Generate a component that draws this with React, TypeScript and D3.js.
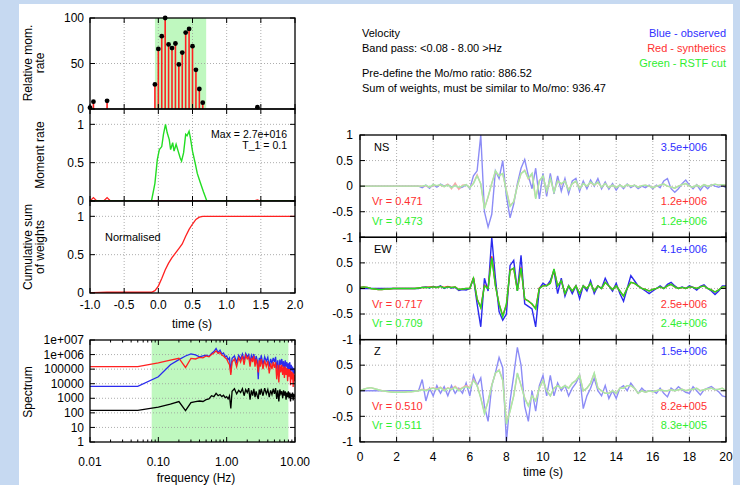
import React, { useRef, useEffect } from 'react';
import * as d3 from 'd3';

const FONT = '"Liberation Sans", Arial, Helvetica, sans-serif';

// relative moment rate (stems)
const stemTimes = [-1.0, -0.95, -0.75, -0.05, 0.0, 0.05, 0.10, 0.15, 0.20, 0.25, 0.30, 0.35, 0.40, 0.45, 0.50, 0.55, 0.60, 0.65, 1.45];
const stemValues = [1.5, 8, 9, 27, 66, 80, 100, 71, 67, 72, 49, 62, 84, 88, 69, 43, 22, 7, 2];
const rstfCut = [-0.05, 0.70];

// moment rate
const mrTimes = [-1.0, -0.1, -0.05, -0.015, 0.015, 0.05, 0.075, 0.105, 0.13, 0.16, 0.18, 0.21, 0.23, 0.26, 0.29, 0.32, 0.34, 0.37, 0.40, 0.42, 0.45, 0.47, 0.50, 0.54, 0.57, 0.61, 0.66, 0.71, 2.0];
const mrValues = [0, 0, 0.23, 0.54, 0.67, 0.71, 0.87, 1.0, 0.89, 0.80, 0.67, 0.76, 0.65, 0.74, 0.65, 0.56, 0.52, 0.63, 0.87, 0.85, 0.91, 0.82, 0.65, 0.49, 0.36, 0.25, 0.12, 0, 0];
const mrRedTimes = [-1.0, -0.95, -0.9, -0.8, -0.75, -0.7, 1.4, 1.45, 1.5, 2.0];
const mrRedValues = [0, 0.045, 0, 0, 0.045, 0, 0, 0.015, 0, 0];

// cumulative sum of weights
const cumTimes = [-1.0, -0.95, -0.75, -0.1, -0.05, 0.0, 0.05, 0.1, 0.15, 0.2, 0.25, 0.3, 0.35, 0.4, 0.45, 0.5, 0.55, 0.6, 0.65, 1.45, 2.0];
const cumValues = [0, 0.005, 0.01, 0.01, 0.03, 0.09, 0.19, 0.3, 0.39, 0.46, 0.52, 0.58, 0.64, 0.74, 0.83, 0.9, 0.96, 0.99, 1.0, 1.0, 1.0];

// spectra
const freqs = [0.01, 0.05, 0.10, 0.15, 0.20, 0.25, 0.30, 0.35, 0.40, 0.45, 0.50, 0.55, 0.60, 0.65, 0.70, 0.75, 0.80, 0.85, 0.90, 0.95,
  1.00, 1.05, 1.10, 1.15, 1.20, 1.30, 1.40, 1.50, 1.60, 1.70, 1.80, 1.90, 2.00, 2.10, 2.20, 2.30, 2.40, 2.50, 2.60, 2.70,
  2.80, 2.90, 3.00, 3.10, 3.20, 3.40, 3.60, 3.80, 4.00, 4.20, 4.40, 4.60, 4.80, 5.00, 5.20, 5.40, 5.60, 5.80, 6.00, 6.20,
  6.40, 6.60, 6.80, 7.00, 7.20, 7.40, 7.60, 7.80, 8.00, 8.20, 8.40, 8.60, 8.80, 9.00, 9.20, 9.40, 9.60, 9.80, 10.00];
const specObserved = [6500, 6500, 3.0e4, 2.0e5, 4.5e5, 8.0e5, 1.1e6, 9.5e5, 7.0e5, 8.0e5, 9.0e5, 7.5e5, 1.2e6, 1.6e6, 2.6e6, 1.4e6, 2.0e6, 1.1e6, 1.3e6, 7.0e5,
  8.0e5, 4.5e5, 6.0e5, 6.0e4, 5.5e5, 8.0e5, 3.0e5, 9.0e5, 5.0e5, 1.1e6, 4.0e5, 1.2e6, 7.0e5, 1.0e6, 3.0e5, 9.0e5, 5.0e5, 1.1e6, 2.5e5, 8.0e5,
  4.0e5, 2.0e4, 6.0e5, 3.0e5, 9.0e5, 2.0e5, 7.0e5, 3.5e5, 6.5e5, 1.5e5, 5.0e5, 2.5e5, 6.0e5, 3.0e5, 7.0e5, 1.0e5, 4.0e5, 3.0e4, 4.5e5, 2.0e5,
  5.0e5, 1.5e5, 3.5e5, 8.0e4, 4.0e5, 1.5e5, 3.0e5, 6.0e4, 2.5e5, 1.0e5, 3.0e5, 5.0e4, 2.0e5, 8.0e4, 1.5e5, 3.0e4, 1.2e5, 5.0e4, 9.0e4];
const specSynthetic = [1.5e5, 1.5e5, 2.7e5, 4.2e5, 5.6e5, 1.3e5, 5.5e5, 5.0e5, 6.5e5, 6.0e5, 8.0e5, 7.0e5, 1.0e6, 1.3e6, 1.8e6, 1.2e6, 1.4e6, 9.0e5, 8.0e5, 6.0e5,
  5.0e5, 3.0e5, 2.0e5, 4.0e4, 3.0e5, 5.0e5, 1.5e5, 6.0e5, 3.0e5, 8.0e5, 2.0e5, 9.0e5, 5.0e5, 7.0e5, 1.5e5, 6.0e5, 3.0e5, 8.0e5, 1.5e5, 5.0e5,
  2.0e5, 6.0e4, 4.0e5, 1.5e5, 5.0e5, 1.0e5, 4.0e5, 1.5e5, 3.5e5, 5.0e4, 2.5e5, 1.0e5, 3.0e5, 1.2e5, 3.0e5, 2.0e4, 2.0e5, 1.2e4, 2.0e5, 6.0e4,
  2.0e5, 4.0e4, 1.5e5, 2.5e4, 1.5e5, 4.0e4, 1.2e5, 1.5e4, 1.0e5, 3.0e4, 1.0e5, 8.0e3, 7.0e4, 2.0e4, 6.0e4, 6.0e3, 5.0e4, 1.5e4, 4.0e4];
const specSource = [150, 150, 250, 400, 600, 140, 500, 600, 650, 600, 800, 900, 1500, 1300, 2200, 1500, 1800, 1300, 1600, 1100,
  1300, 900, 1500, 200, 3000, 4500, 2000, 3500, 2500, 4500, 1500, 4000, 2500, 5000, 800, 3500, 1500, 4500, 1200, 3000,
  1500, 900, 4000, 1800, 4500, 1500, 5000, 2000, 4000, 1200, 3500, 1800, 4500, 2000, 5000, 900, 3500, 600, 4000, 2000,
  3000, 1000, 3500, 1500, 3000, 800, 2500, 1200, 3000, 1000, 2500, 600, 2000, 1200, 2500, 700, 2000, 1200, 1800];
const bandPass = [0.08, 8.0];
const specTickLabels = ['1', '10', '100', '1000', '10000', '100000', '1e+006', '1e+007'];
const freqTickLabels = ['0.01', '0.10', '1.00', '10.00'];

// waveforms, sampled every 0.2 s from 0 to 20 s
const dt = 0.2;
const nsObs = [
  0, 0, 0, 0, 0, 0, 0, 0, 0, 0,
  0, 0, 0, 0, 0, 0, 0, -0.03, 0.02, -0.04,
  0.03, -0.02, 0.04, 0.0, 0.03, -0.02, 0.02, -0.04, -0.02, 0.03,
  -0.05, 0.2, 0.3, 1.0, -0.5, -0.8, -0.55, 0.3, 0.15, 0.5,
  -0.2, -0.62, -0.35, 0.05, 0.35, 0.52, 0.2, -0.05, 0.35, -0.25,
  0.25, -0.2, 0.25, -0.15, 0.2, -0.1, 0.15, -0.15, 0.1, 0.15,
  -0.1, 0.1, -0.05, 0.12, 0.0, 0.15, -0.05, 0.08, -0.06, 0.05,
  -0.08, 0.03, -0.05, 0.04, -0.03, 0.02, -0.05, 0.0, -0.03, 0.02,
  -0.05, 0.02, -0.03, 0.1, 0.15, -0.05, -0.12, -0.05, 0.05, 0.12,
  0.02, -0.05, 0.03, -0.08, 0.02, -0.05, 0.03, 0.0, -0.02, 0.01,
  -0.03];
const nsSyn = [
  0, 0, 0, 0, 0, 0, 0, 0, 0, 0,
  0, 0, 0, 0, 0, 0, 0, 0, 0.01, -0.02,
  0.02, 0.01, 0.02, -0.01, 0.04, -0.05, 0.06, -0.06, 0.02, 0.03,
  -0.03, 0.06, 0.22, 0.04, -0.43, -0.22, 0.06, 0.28, 0.21, 0.24,
  -0.08, -0.38, -0.31, 0.01, 0.24, 0.31, 0.14, 0.24, -0.24, 0.11,
  0.19, -0.1, 0.14, -0.11, 0.1, 0.04, 0.1, -0.07, 0.05, 0.09,
  -0.04, 0.05, 0.0, 0.07, 0.02, 0.07, -0.02, 0.05, -0.03, 0.02,
  -0.03, 0.02, -0.02, 0.03, 0.0, 0.02, -0.02, 0.01, 0.02, 0.0,
  -0.03, 0.0, 0.02, 0.04, 0.0, -0.02, -0.04, 0.0, 0.03, 0.05,
  0.0, -0.02, 0.02, -0.02, 0.03, 0.0, 0.02, 0.04, 0.02, 0.03,
  0.02];
const nsCut = [
  0, 0, 0, 0, 0, 0, 0, 0, 0, 0,
  0, 0, 0, 0, 0, 0, 0, 0, 0.02, -0.02,
  0.03, 0.01, 0.03, -0.01, 0.02, -0.03, 0.01, -0.02, 0.0, 0.03,
  -0.03, 0.05, 0.2, 0.05, -0.45, -0.2, 0.05, 0.3, 0.2, 0.25,
  -0.1, -0.4, -0.3, 0.0, 0.25, 0.3, 0.15, 0.25, -0.25, 0.1,
  0.2, -0.1, 0.15, -0.12, 0.1, 0.05, 0.1, -0.08, 0.05, 0.1,
  -0.05, 0.05, 0.0, 0.08, 0.02, 0.08, -0.02, 0.05, -0.03, 0.02,
  -0.03, 0.02, -0.02, 0.03, 0.0, 0.02, -0.02, 0.01, 0.02, 0.0,
  -0.03, 0.0, 0.02, 0.04, 0.0, -0.02, -0.04, 0.0, 0.03, 0.05,
  0.0, -0.02, 0.02, -0.02, 0.03, 0.0, 0.02, 0.04, 0.02, 0.03,
  0.02];
const ewObs = [
  0, 0, 0, 0, 0, 0, 0, 0, 0, 0,
  0, 0, 0, 0, 0, 0, 0, 0.02, 0.03, 0.01,
  0.04, 0.02, 0.05, 0.0, 0.03, 0.01, 0.02, -0.04, -0.02, -0.03,
  0.0, 0.2, -0.3, -0.75, 0.2, -0.05, 1.0, 0.2, -0.45, -0.62,
  -0.5, 0.45, 0.55, -0.05, 0.65, -0.3, -0.35, -0.4, -0.75, 0.0,
  0.1, 0.05, 0.15, 0.35, -0.1, 0.2, -0.15, 0.05, -0.1, 0.05,
  -0.2, 0.05, -0.05, 0.15, -0.1, 0.05, 0.0, 0.2, 0.05, -0.05,
  0.1, -0.1, -0.25, 0.0, 0.25, 0.15, 0.05, 0.0, -0.05, -0.1,
  -0.05, 0.0, 0.05, 0.0, 0.08, 0.12, 0.05, 0.0, 0.03, 0.0,
  0.05, 0.02, -0.03, 0.04, 0.07, 0.0, -0.05, -0.12, -0.05, 0.05,
  0.05];
const ewSyn = [
  0.02, 0.03, 0.02, 0.0, -0.01, -0.02, -0.02, -0.01, -0.01, 0.0,
  0.0, 0.0, 0.0, 0.0, 0.0, 0.0, 0.01, 0.02, 0.02, 0.03,
  0.03, 0.02, 0.04, 0.02, 0.04, 0.02, 0.03, -0.02, -0.01, 0.0,
  0.0, 0.21, -0.21, -0.37, 0.06, 0.01, 0.63, 0.06, -0.31, -0.53,
  -0.33, 0.36, 0.39, -0.04, 0.41, -0.21, -0.24, -0.31, -0.39, 0.01,
  0.05, 0.06, 0.1, 0.37, 0.05, 0.15, -0.1, 0.05, -0.05, 0.05,
  -0.1, 0.05, 0.0, 0.1, -0.05, 0.05, 0.0, 0.12, 0.05, -0.02,
  0.05, -0.05, -0.15, 0.0, 0.12, 0.1, 0.05, 0.0, -0.02, -0.05,
  -0.02, 0.0, 0.03, 0.0, 0.05, 0.08, 0.03, 0.0, 0.02, 0.0,
  0.03, 0.02, 0.0, 0.03, 0.05, 0.0, -0.03, -0.07, -0.03, 0.03,
  0.03];
const ewCut = [
  0.02, 0.03, 0.02, 0.0, -0.01, -0.02, -0.02, -0.01, -0.01, 0.0,
  0.0, 0.0, 0.0, 0.0, 0.0, 0.0, 0.01, 0.02, 0.02, 0.02,
  0.03, 0.02, 0.04, 0.01, 0.03, 0.02, 0.03, -0.02, -0.01, 0.0,
  0.0, 0.2, -0.2, -0.38, 0.05, 0.0, 0.6, 0.05, -0.3, -0.55,
  -0.3, 0.35, 0.4, -0.05, 0.4, -0.2, -0.25, -0.3, -0.4, 0.0,
  0.05, 0.05, 0.1, 0.38, 0.05, 0.15, -0.1, 0.05, -0.05, 0.05,
  -0.1, 0.05, 0.0, 0.1, -0.05, 0.05, 0.0, 0.12, 0.05, -0.02,
  0.05, -0.05, -0.15, 0.0, 0.12, 0.1, 0.05, 0.0, -0.02, -0.05,
  -0.02, 0.0, 0.03, 0.0, 0.05, 0.08, 0.03, 0.0, 0.02, 0.0,
  0.03, 0.02, 0.0, 0.03, 0.05, 0.0, -0.03, -0.07, -0.03, 0.03,
  0.03];
const zObs = [
  0, 0, 0, 0, 0, 0, 0, 0, 0, 0,
  0, 0, 0, 0, 0, 0, 0, 0.22, -0.2, 0.05,
  -0.1, 0.1, -0.05, 0.08, -0.1, 0.1, -0.05, 0.05, -0.05, 0.15,
  -0.1, 0.3, 0.1, 0.25, -0.3, -0.6, 0.1, 0.35, 0.65, 0.45,
  -1.0, -0.2, 0.3, 0.85, 0.5, -0.3, -0.6, 0.0, -0.4, 0.1,
  0.3, -0.1, 0.3, -0.1, 0.15, 0.0, 0.1, -0.1, 0.05, 0.15,
  0.3, -0.35, -0.1, 0.05, 0.25, 0.0, -0.1, 0.1, -0.15, 0.0,
  -0.15, 0.05, 0.1, 0.0, 0.15, 0.05, -0.05, 0.05, -0.02, 0.0,
  0.0, -0.05, 0.05, -0.05, -0.12, 0.05, 0.0, 0.08, 0.02, -0.03,
  -0.05, 0.08, 0.0, -0.08, 0.02, 0.05, 0.08, 0.03, -0.02, -0.1,
  -0.12];
const zSyn = [
  0.0, 0.03, 0.05, 0.06, 0.04, 0.02, 0.0, -0.01, -0.02, -0.03,
  -0.03, -0.03, -0.03, -0.02, -0.02, -0.01, 0.0, 0.03, 0.01, 0.04,
  0.06, 0.03, 0.07, 0.01, 0.06, 0.03, 0.09, 0.02, 0.06, 0.1,
  0.06, 0.22, 0.11, -0.14, -0.43, -0.21, 0.11, 0.34, 0.41, 0.21,
  -0.63, -0.39, -0.1, 0.34, 0.11, -0.14, -0.29, -0.1, -0.19, 0.05,
  0.2, 0.0, -0.1, 0.05, 0.1, 0.05, 0.1, 0.05, 0.15, 0.2,
  0.3, 0.0, 0.05, 0.15, 0.34, 0.05, 0.0, -0.05, -0.05, 0.0,
  -0.05, 0.05, 0.05, 0.1, 0.1, 0.05, -0.05, 0.0, -0.03, 0.0,
  -0.02, 0.0, 0.02, 0.0, 0.0, 0.02, 0.0, 0.02, 0.03, 0.0,
  0.02, 0.03, 0.05, 0.0, 0.02, 0.04, 0.05, 0.02, 0.03, 0.05,
  0.0];
const zCut = [
  0.0, 0.03, 0.05, 0.06, 0.04, 0.02, 0.0, -0.01, -0.02, -0.03,
  -0.03, -0.03, -0.03, -0.02, -0.02, -0.01, 0.0, 0.02, 0.0, 0.03,
  0.05, 0.02, 0.06, 0.0, 0.05, 0.02, 0.07, 0.0, 0.05, 0.08,
  0.05, 0.2, 0.1, -0.15, -0.45, -0.2, 0.1, 0.35, 0.4, 0.2,
  -0.65, -0.4, -0.1, 0.35, 0.1, -0.15, -0.3, -0.1, -0.2, 0.05,
  0.2, 0.0, -0.1, 0.05, 0.1, 0.05, 0.1, 0.05, 0.15, 0.2,
  0.3, 0.0, 0.05, 0.15, 0.35, 0.05, 0.0, -0.05, -0.05, 0.0,
  -0.05, 0.05, 0.05, 0.1, 0.1, 0.05, -0.05, 0.0, -0.03, 0.0,
  -0.02, 0.0, 0.02, 0.0, 0.0, 0.02, 0.0, 0.02, 0.03, 0.0,
  0.02, 0.03, 0.05, 0.0, 0.02, 0.04, 0.05, 0.02, 0.03, 0.05,
  0.0];

const components = [
  { name: 'NS', obs: nsObs, syn: nsSyn, cut: nsCut, obsMax: '3.5e+006', synMax: '1.2e+006', cutMax: '1.2e+006', vrSyn: '0.471', vrCut: '0.473', faded: true },
  { name: 'EW', obs: ewObs, syn: ewSyn, cut: ewCut, obsMax: '4.1e+006', synMax: '2.5e+006', cutMax: '2.4e+006', vrSyn: '0.717', vrCut: '0.709', faded: false },
  { name: 'Z', obs: zObs, syn: zSyn, cut: zCut, obsMax: '1.5e+006', synMax: '8.2e+005', cutMax: '8.3e+005', vrSyn: '0.510', vrCut: '0.511', faded: true },
];

const infoLines = ['Velocity', 'Band pass: <0.08 - 8.00 >Hz', 'Pre-define the Mo/mo ratio: 886.52', 'Sum of weights, must be similar to Mo/mo: 936.47'];
const legendLines = [
  { text: 'Blue - observed', color: '#3030ff' },
  { text: 'Red - synthetics', color: '#ff3030' },
  { text: 'Green - RSTF cut', color: '#30ee30' },
];

const BLUE = '#2a2aee';
const RED = '#ff2020';
const GREEN = '#22dd22';
const BLUE_LIGHT = '#8c8cf6';
const RED_LIGHT = '#f7a8a8';
const GREEN_LIGHT = '#a6eca6';
const BAND = '#bff8bf';
const GRID = '#999';

export default function App() {
  const svgRef = useRef<SVGSVGElement>(null);

  useEffect(() => {
    const svg = d3.select(svgRef.current);
    svg.selectAll('*').remove();
    svg.style('font-family', FONT);

    svg.append('rect').attr('width', 740).attr('height', 485).attr('fill', '#c6d9f1');
    svg.append('rect').attr('x', 19).attr('y', 4).attr('width', 714).attr('height', 481).attr('fill', '#fff');

    let clipId = 0;
    const panel = (x: any, y: any) => {
      const [x0, x1] = x.range();
      const [y1, y0] = y.range();
      const id = `clip${clipId++}`;
      svg.append('clipPath').attr('id', id)
        .append('rect').attr('x', x0).attr('y', y0).attr('width', x1 - x0).attr('height', y1 - y0);
      const g = svg.append('g');
      const plot = g.append('g').attr('clip-path', `url(#${id})`);
      return { g, plot, x0, x1, y0, y1 };
    };

    const gridLines = (g: any, x: any, y: any, xs: number[], ys: number[]) => {
      const [x0, x1] = x.range();
      const [y1, y0] = y.range();
      xs.forEach(v => g.append('line').attr('x1', x(v)).attr('x2', x(v)).attr('y1', y0).attr('y2', y1)
        .attr('stroke', GRID).attr('stroke-width', 0.8).attr('stroke-dasharray', '1,2'));
      ys.forEach(v => g.append('line').attr('x1', x0).attr('x2', x1).attr('y1', y(v)).attr('y2', y(v))
        .attr('stroke', GRID).attr('stroke-width', 0.8).attr('stroke-dasharray', '1,2'));
    };

    const frame = (g: any, x: any, y: any, xs: number[], ys: number[], len = 5, xsMinor: number[] = []) => {
      const [x0, x1] = x.range();
      const [y1, y0] = y.range();
      const tick = (a: number, b: number, c: number, d: number) =>
        g.append('line').attr('x1', a).attr('y1', b).attr('x2', c).attr('y2', d).attr('stroke', '#000').attr('stroke-width', 1);
      xs.forEach(v => { tick(x(v), y1, x(v), y1 - len); tick(x(v), y0, x(v), y0 + len); });
      xsMinor.forEach(v => { tick(x(v), y1, x(v), y1 - len / 2); tick(x(v), y0, x(v), y0 + len / 2); });
      ys.forEach(v => { tick(x0, y(v), x0 + len, y(v)); tick(x1, y(v), x1 - len, y(v)); });
      g.append('rect').attr('x', x0).attr('y', y0).attr('width', x1 - x0).attr('height', y1 - y0)
        .attr('fill', 'none').attr('stroke', '#000').attr('stroke-width', 1.3);
    };

    const label = (txt: string, x: number, y: number, anchor = 'end', color = '#000', size = 12) =>
      svg.append('text').attr('x', x).attr('y', y).attr('dy', '0.35em').attr('text-anchor', anchor)
        .attr('fill', color).style('font-size', `${size}px`).text(txt);

    const yLabel = (lines: string[], xs: number[], cy: number) =>
      lines.forEach((t, i) => svg.append('text')
        .attr('transform', `translate(${xs[i]},${cy}) rotate(-90)`)
        .attr('dy', '0.35em').attr('text-anchor', 'middle').style('font-size', '12px').text(t));

    // ---- left column: source time function ----
    const xT = d3.scaleLinear().domain([-1, 2]).range([90, 295]);
    const tTicks = d3.range(-1, 2.01, 0.5);
    const tGrid = tTicks.slice(1, -1);

    // panel 1: relative moment rate
    const y1 = d3.scaleLinear().domain([0, 100]).range([109, 18]);
    const p1 = panel(xT, y1);
    p1.plot.append('rect').attr('x', xT(rstfCut[0])).attr('y', p1.y0)
      .attr('width', xT(rstfCut[1]) - xT(rstfCut[0])).attr('height', p1.y1 - p1.y0).attr('fill', BAND);
    gridLines(p1.plot, xT, y1, tGrid, [50]);
    p1.plot.selectAll('line.stem').data(stemTimes).join('line').attr('class', 'stem')
      .attr('x1', d => xT(d)).attr('x2', d => xT(d))
      .attr('y1', y1(0)).attr('y2', (d, i) => y1(stemValues[i]))
      .attr('stroke', RED).attr('stroke-width', 1.6);
    frame(p1.g, xT, y1, tTicks, [0, 50, 100]);
    p1.g.selectAll('circle').data(stemTimes).join('circle')
      .attr('cx', d => xT(d)).attr('cy', (d, i) => y1(stemValues[i])).attr('r', 2.4).attr('fill', '#000');
    [0, 50, 100].forEach(v => label(String(v), 84, y1(v)));
    yLabel(['Relative mom.', 'rate'], [28, 40], 63);

    // panel 2: moment rate
    const y2 = d3.scaleLinear().domain([0, 1.2]).range([201, 109]);
    const p2 = panel(xT, y2);
    gridLines(p2.plot, xT, y2, tGrid, [0.5, 1]);
    const line2 = d3.line<number>().x(d => xT(d));
    p2.plot.append('path').attr('d', line2.y((d, i) => y2(mrRedValues[i]))(mrRedTimes))
      .attr('fill', 'none').attr('stroke', RED).attr('stroke-width', 1.3);
    p2.plot.append('path').attr('d', line2.y((d, i) => y2(mrValues[i]))(mrTimes))
      .attr('fill', 'none').attr('stroke', GREEN).attr('stroke-width', 1.4);
    frame(p2.g, xT, y2, tTicks, [0, 0.5, 1]);
    [0, 0.5, 1].forEach(v => label(String(v), 84, y2(v)));
    label('Max = 2.7e+016', 287, 134, 'end', '#000', 10.5);
    label('T_1 =  0.1', 287, 145.5, 'end', '#000', 10.5);
    yLabel(['Moment rate'], [40], 155);

    // panel 3: cumulative sum
    const y3 = d3.scaleLinear().domain([0, 1.2]).range([293, 201]);
    const p3 = panel(xT, y3);
    gridLines(p3.plot, xT, y3, tGrid, [0.5, 1]);
    p3.plot.append('path').attr('d', d3.line<number>().x(d => xT(d)).y((d, i) => y3(cumValues[i]))(cumTimes))
      .attr('fill', 'none').attr('stroke', RED).attr('stroke-width', 1.3);
    frame(p3.g, xT, y3, tTicks, [0, 0.5, 1]);
    [0, 0.5, 1].forEach(v => label(String(v), 84, y3(v)));
    tTicks.forEach(v => label(v.toFixed(1), xT(v), 305, 'middle'));
    label('Normalised', 105, 237, 'start', '#000', 11);
    label('time (s)', 192, 324, 'middle');
    yLabel(['Cumulative sum', 'of weights'], [28, 40], 247);

    // panel 4: spectrum
    const xF = d3.scaleLog().domain([0.01, 10]).range([90, 295]);
    const yS = d3.scaleLog().domain([1, 1e7]).range([442, 340]);
    const p4 = panel(xF, yS);
    p4.plot.append('rect').attr('x', xF(bandPass[0])).attr('y', p4.y0)
      .attr('width', xF(bandPass[1]) - xF(bandPass[0])).attr('height', p4.y1 - p4.y0).attr('fill', BAND);
    const decades = d3.range(0, 8).map(e => Math.pow(10, e));
    gridLines(p4.plot, xF, yS, [], decades.slice(1, -1));
    const specLine = (vals: number[], color: string) =>
      p4.plot.append('path').attr('d', d3.line<number>().x(d => xF(d)).y((d, i) => yS(vals[i]))(freqs))
        .attr('fill', 'none').attr('stroke', color).attr('stroke-width', 1.3);
    specLine(specSource, '#000');
    specLine(specObserved, BLUE);
    specLine(specSynthetic, RED);
    const fMajor = [0.01, 0.1, 1, 10];
    const fMinor = fMajor.slice(0, -1).flatMap(d => d3.range(2, 10).map(k => k * d));
    frame(p4.g, xF, yS, fMajor, decades, 5, fMinor);
    decades.forEach((v, i) => label(specTickLabels[i], 84, yS(v)));
    fMajor.forEach((v, i) => label(freqTickLabels[i], xF(v), 462, 'middle'));
    label('frequency (Hz)', 196, 478, 'middle');
    yLabel(['Spectrum'], [28], 392);

    // ---- right column: waveforms ----
    const xW = d3.scaleLinear().domain([0, 20]).range([360, 726]);
    const wTicks = d3.range(0, 20.01, 2);
    const vTicks = [-1, -0.5, 0, 0.5, 1];
    const panelH = 102.3;
    components.forEach((c, k) => {
      const top = 135 + k * panelH;
      const y = d3.scaleLinear().domain([-1, 1]).range([top + panelH, top]);
      const p = panel(xW, y);
      gridLines(p.plot, xW, y, wTicks.slice(1, -1), [-0.5, 0, 0.5]);
      const trace = (vals: number[], color: string) =>
        p.plot.append('path')
          .attr('d', d3.line<number>().x((d, i) => xW(i * dt)).y(d => y(d))(vals))
          .attr('fill', 'none').attr('stroke', color).attr('stroke-width', 1.4);
      trace(c.obs, c.faded ? BLUE_LIGHT : BLUE);
      trace(c.syn, c.faded ? RED_LIGHT : RED);
      trace(c.cut, c.faded ? GREEN_LIGHT : GREEN);
      frame(p.g, xW, y, wTicks, vTicks);
      vTicks.forEach(v => { if (k === 0 || v < 1) label(String(v), 353, y(v)); });
      label(c.name, 374, top + 12, 'start', '#000', 11);
      label(c.obsMax, 707, top + 12, 'end', '#3030ff', 11);
      label(`Vr = ${c.vrSyn}`, 372, top + 66.5, 'start', '#ff3030', 11);
      label(c.synMax, 707, top + 66.5, 'end', '#ff3030', 11);
      label(`Vr = ${c.vrCut}`, 372, top + 86, 'start', '#30ee30', 11);
      label(c.cutMax, 707, top + 86, 'end', '#30ee30', 11);
    });
    wTicks.forEach(v => label(String(v), xW(v), 456.5, 'middle'));
    label('time (s)', 543, 471.5, 'middle');

    // ---- header text ----
    [33, 48, 73, 88].forEach((yy, i) => label(infoLines[i], 362, yy, 'start', '#000', 11));
    legendLines.forEach((l, i) => label(l.text, 726, 33 + i * 15, 'end', l.color, 11));
  }, []);

  return (
    <svg ref={svgRef} width={740} height={485}
      style={{ position: 'absolute', left: 0, top: 0, display: 'block' }} />
  );
}
